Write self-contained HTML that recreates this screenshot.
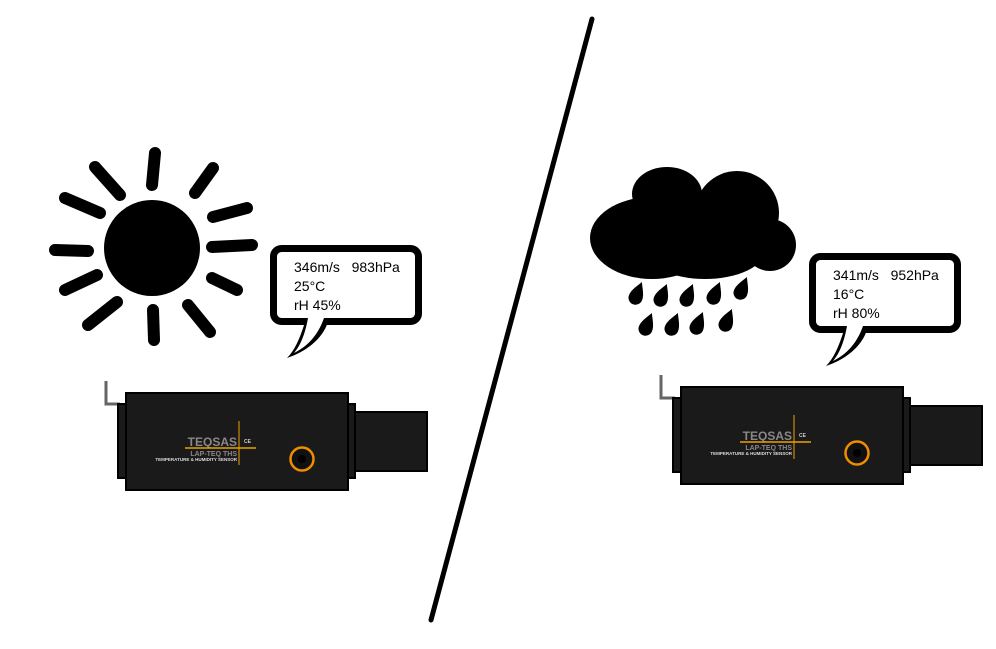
<!DOCTYPE html>
<html><head><meta charset="utf-8"><style>html,body{margin:0;padding:0;background:#fff}svg{display:block}</style></head>
<body>
<svg width="996" height="649" viewBox="0 0 996 649" xmlns="http://www.w3.org/2000/svg" font-family="Liberation Sans, sans-serif">
<rect width="996" height="649" fill="#fff"/>
<line x1="592" y1="19" x2="431" y2="620" stroke="#000" stroke-width="5" stroke-linecap="round"/>
<circle cx="152" cy="248" r="48" fill="#000"/>
<g stroke="#000" stroke-width="12" stroke-linecap="round">
<line x1="155" y1="153" x2="152" y2="185"/>
<line x1="95" y1="167" x2="120" y2="195"/>
<line x1="213" y1="168" x2="195" y2="193"/>
<line x1="65" y1="198" x2="100" y2="213"/>
<line x1="213" y1="217" x2="247" y2="208"/>
<line x1="55" y1="250" x2="88" y2="251"/>
<line x1="212" y1="247" x2="252" y2="245"/>
<line x1="65" y1="290" x2="97" y2="275"/>
<line x1="212" y1="278" x2="237" y2="290"/>
<line x1="88" y1="325" x2="117" y2="302"/>
<line x1="153" y1="310" x2="154" y2="340"/>
<line x1="188" y1="305" x2="210" y2="332"/>
</g>
<g fill="#000">
<ellipse cx="652" cy="238" rx="62" ry="41"/>
<ellipse cx="705" cy="250" rx="60" ry="29"/>
<ellipse cx="667" cy="194" rx="35" ry="27"/>
<circle cx="737" cy="213" r="42"/>
<circle cx="770" cy="245" r="26"/>
</g>
<g fill="#000">
<path d="M0,-13 C3,-7 7,-2 7,4 A7,7 0 0 1 -7,4 C-7,-2 -3,-7 0,-13Z" transform="translate(637,294) rotate(22)"/>
<path d="M0,-13 C3,-7 7,-2 7,4 A7,7 0 0 1 -7,4 C-7,-2 -3,-7 0,-13Z" transform="translate(662,296) rotate(22)"/>
<path d="M0,-13 C3,-7 7,-2 7,4 A7,7 0 0 1 -7,4 C-7,-2 -3,-7 0,-13Z" transform="translate(688,296) rotate(22)"/>
<path d="M0,-13 C3,-7 7,-2 7,4 A7,7 0 0 1 -7,4 C-7,-2 -3,-7 0,-13Z" transform="translate(715,294) rotate(22)"/>
<path d="M0,-13 C3,-7 7,-2 7,4 A7,7 0 0 1 -7,4 C-7,-2 -3,-7 0,-13Z" transform="translate(742,289) rotate(22)"/>
<path d="M0,-13 C3,-7 7,-2 7,4 A7,7 0 0 1 -7,4 C-7,-2 -3,-7 0,-13Z" transform="translate(647,325) rotate(22)"/>
<path d="M0,-13 C3,-7 7,-2 7,4 A7,7 0 0 1 -7,4 C-7,-2 -3,-7 0,-13Z" transform="translate(673,325) rotate(22)"/>
<path d="M0,-13 C3,-7 7,-2 7,4 A7,7 0 0 1 -7,4 C-7,-2 -3,-7 0,-13Z" transform="translate(698,324) rotate(22)"/>
<path d="M0,-13 C3,-7 7,-2 7,4 A7,7 0 0 1 -7,4 C-7,-2 -3,-7 0,-13Z" transform="translate(727,321) rotate(22)"/>
</g>
<g>
<path d="M305,322 C300,338 295,350 287,358 C305,352 322,340 328,322" fill="#000"/>
<rect x="273.5" y="248.5" width="145" height="73" rx="8" fill="#fff" stroke="#000" stroke-width="7"/>
<path d="M308,318 C305,335 300,346 294,353 C308,346 318,335 324,318Z" fill="#fff"/>
<g font-size="14" fill="#000"><text x="294" y="272">346m/s&#160;&#160; 983hPa</text><text x="294" y="291">25°C</text><text x="294" y="310">rH 45%</text></g>
</g>
<g transform="translate(539,8)">
<path d="M305,322 C300,338 295,350 287,358 C305,352 322,340 328,322" fill="#000"/>
<rect x="273.5" y="248.5" width="145" height="73" rx="8" fill="#fff" stroke="#000" stroke-width="7"/>
<path d="M308,318 C305,335 300,346 294,353 C308,346 318,335 324,318Z" fill="#fff"/>
<g font-size="14" fill="#000"><text x="294" y="272">341m/s&#160;&#160; 952hPa</text><text x="294" y="291">16°C</text><text x="294" y="310">rH 80%</text></g>
</g>
<defs>
<g id="sensor">
<path d="M106,381 V404 H120" fill="none" stroke="#666" stroke-width="3"/>
<rect x="118" y="404" width="8" height="74" fill="#1a1a1a" stroke="#000" stroke-width="2"/>
<rect x="347" y="404" width="8" height="74" fill="#1a1a1a" stroke="#000" stroke-width="2"/>
<rect x="355" y="412" width="72" height="59" fill="#1a1a1a" stroke="#000" stroke-width="2"/>
<rect x="126" y="393" width="222" height="97" fill="#1a1a1a" stroke="#000" stroke-width="2"/>
<text x="237" y="446" font-size="12" font-weight="bold" fill="#888" text-anchor="end">TEQSAS</text>
<text x="244" y="443" font-size="5" font-weight="bold" fill="#ccc">CE</text>
<line x1="185" y1="448" x2="256" y2="448" stroke="#f0a000" stroke-width="1.5"/>
<line x1="239" y1="421" x2="239" y2="465" stroke="#f0a000" stroke-width="1"/>
<text x="237" y="456" font-size="7" font-weight="bold" fill="#888" text-anchor="end">LAP-TEQ THS</text>
<text x="237" y="461" font-size="4.5" font-weight="bold" fill="#ddd" text-anchor="end">TEMPERATURE &amp; HUMIDITY SENSOR</text>
<circle cx="302" cy="459" r="11.5" fill="#111" stroke="#f08c00" stroke-width="2.5"/>
<circle cx="302" cy="459" r="4" fill="#000"/>
</g>
</defs>
<use href="#sensor"/>
<use href="#sensor" transform="translate(555,-6)"/>
</svg>
</body></html>
